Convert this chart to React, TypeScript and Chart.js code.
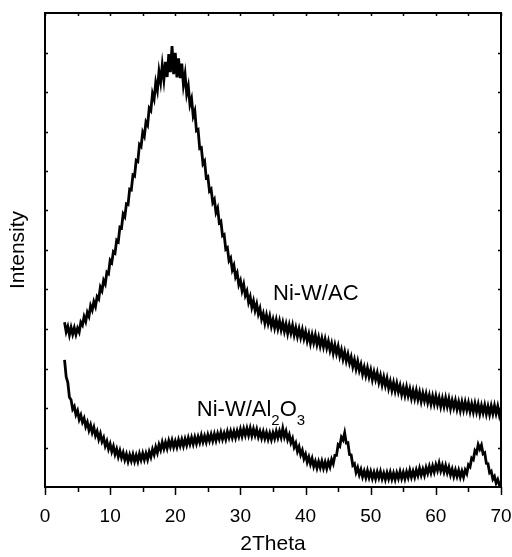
import React, { useEffect, useRef } from "react";
import { Chart, registerables } from "chart.js";

Chart.register(...registerables);

// 2Theta sampling grid (degrees)
const thetaStart = 3;
const thetaStep = 0.25;

// Ni-W/AC intensity (arb. units), 3..70 deg every 0.25 deg
const niWAC = [
  417, 393, 406, 385, 404, 387, 403, 386, 402, 392,
  417, 410, 431, 419, 442, 432, 459, 448, 469, 457,
  482, 476, 506, 497, 523, 514, 544, 540, 574, 568,
  596, 592, 625, 621, 658, 656, 691, 684, 717, 715,
  754, 752, 790, 787, 827, 824, 867, 862, 898, 888,
  924, 916, 959, 953, 996, 982, 1024, 1004, 1052, 1025,
  1068, 1031, 1076, 1038, 1096, 1050, 1116, 1045, 1099, 1037,
  1085, 1035, 1072, 1018, 1045, 995, 1015, 968, 983, 939,
  952, 902, 905, 857, 859, 818, 825, 783, 786, 749,
  754, 720, 728, 695, 706, 669, 673, 636, 639, 602,
  606, 573, 580, 550, 561, 532, 542, 512, 523, 497,
  513, 485, 496, 468, 482, 455, 471, 447, 463, 438,
  452, 425, 439, 415, 435, 414, 432, 407, 424, 403,
  423, 401, 420, 398, 416, 394, 412, 389, 410, 390,
  409, 385, 403, 381, 400, 379, 398, 376, 393, 370,
  387, 364, 385, 365, 384, 361, 379, 357, 376, 355,
  374, 352, 369, 346, 363, 339, 359, 338, 356, 331,
  347, 324, 342, 319, 336, 314, 329, 305, 322, 299,
  318, 295, 310, 286, 303, 282, 301, 279, 296, 272,
  291, 272, 289, 265, 282, 259, 278, 257, 275, 250,
  267, 245, 264, 243, 262, 241, 257, 234, 252, 232,
  253, 231, 248, 225, 244, 224, 244, 222, 240, 217,
  237, 218, 236, 214, 232, 210, 230, 210, 230, 209,
  226, 204, 224, 204, 225, 204, 223, 199, 219, 201,
  219, 197, 215, 194, 215, 195, 215, 195, 213, 191,
  210, 190, 211, 190, 209, 186, 206, 188, 207, 185,
  204, 184, 205, 186, 206, 186, 204, 182, 200,
];

// Ni-W/Al2O3 intensity (arb. units), same grid
const niWAl2O3 = [
  322, 279, 265, 227, 221, 197, 204, 183, 193, 171,
  182, 164, 174, 153, 164, 144, 157, 138, 151, 130,
  141, 121, 135, 115, 125, 104, 116, 96, 109, 90,
  103, 83, 96, 77, 92, 74, 87, 69, 83, 65,
  81, 66, 82, 65, 80, 65, 84, 69, 85, 69,
  85, 70, 89, 76, 95, 82, 101, 87, 107, 94,
  113, 97, 113, 98, 117, 102, 118, 101, 116, 101,
  119, 104, 120, 104, 121, 106, 124, 109, 125, 109,
  126, 110, 127, 113, 131, 114, 129, 114, 132, 117,
  133, 117, 134, 118, 135, 121, 138, 121, 136, 121,
  140, 125, 141, 125, 141, 125, 142, 128, 146, 129,
  147, 131, 148, 131, 149, 130, 147, 131, 146, 127,
  141, 124, 140, 123, 138, 121, 136, 120, 137, 123,
  141, 125, 141, 126, 148, 127, 141, 120, 132, 112,
  123, 101, 111, 90, 102, 82, 93, 72, 83, 63,
  76, 58, 72, 52, 65, 48, 64, 49, 65, 48,
  63, 47, 64, 51, 70, 59, 80, 80, 107, 103,
  126, 119, 137, 111, 112, 82, 81, 55, 59, 37,
  49, 31, 44, 26, 40, 24, 41, 24, 39, 22,
  37, 21, 38, 23, 39, 21, 35, 19, 36, 21,
  37, 20, 35, 19, 36, 22, 39, 22, 37, 21,
  38, 24, 42, 25, 40, 25, 43, 29, 47, 30,
  45, 30, 49, 35, 52, 36, 53, 38, 56, 42,
  60, 41, 55, 38, 54, 36, 50, 31, 45, 27,
  43, 27, 42, 25, 40, 25, 43, 34, 56, 51,
  73, 69, 92, 86, 107, 96, 106, 84, 87, 60,
  59, 36, 40, 20, 27, 10, 19, 5, 13,
];

const xMin = 0;
const xMax = 70;
const yMin = 0;
const yMax = 1200;
const xMajorTicks = [0, 10, 20, 30, 40, 50, 60, 70];
const xMinorTicks = [5, 15, 25, 35, 45, 55, 65];
const yTicks = [100, 200, 300, 400, 500, 600, 700, 800, 900, 1000, 1100];

const xTitle = "2Theta";
const yTitle = "Intensity";
const labelAC = { text: "Ni-W/AC", x: 35.0, y: 473 };
const labelAl = { x: 23.3, y: 180 };

const twoTheta = niWAC.map((_, i) => thetaStart + i * thetaStep);

const framePlugin = {
  id: "framePlugin",
  afterDraw(chart: any) {
    const { ctx, chartArea: a, scales } = chart;
    const x = scales.x;
    const y = scales.y;
    ctx.save();
    ctx.strokeStyle = "#000";
    ctx.lineWidth = 2;
    ctx.strokeRect(a.left, a.top, a.right - a.left, a.bottom - a.top);
    ctx.lineWidth = 1.5;
    ctx.beginPath();
    for (const v of xMajorTicks) {
      const px = Math.round(x.getPixelForValue(v)) + 0.5;
      ctx.moveTo(px, a.bottom);
      ctx.lineTo(px, a.bottom + 8);
      ctx.moveTo(px, a.top);
      ctx.lineTo(px, a.top + 3);
    }
    for (const v of xMinorTicks) {
      const px = Math.round(x.getPixelForValue(v)) + 0.5;
      ctx.moveTo(px, a.bottom);
      ctx.lineTo(px, a.bottom + 5);
      ctx.moveTo(px, a.top);
      ctx.lineTo(px, a.top + 3);
    }
    for (const v of yTicks) {
      const py = Math.round(y.getPixelForValue(v)) + 0.5;
      ctx.moveTo(a.left, py);
      ctx.lineTo(a.left + 3, py);
      ctx.moveTo(a.right, py);
      ctx.lineTo(a.right - 3, py);
    }
    ctx.stroke();

    ctx.fillStyle = "#000";
    ctx.textBaseline = "alphabetic";
    ctx.textAlign = "left";
    const big = "22px Arial, 'Liberation Sans', sans-serif";
    const small = "15px Arial, 'Liberation Sans', sans-serif";
    ctx.font = big;
    ctx.fillText(labelAC.text, x.getPixelForValue(labelAC.x), y.getPixelForValue(labelAC.y));

    let cx = x.getPixelForValue(labelAl.x);
    const by = y.getPixelForValue(labelAl.y);
    const parts: [string, boolean][] = [["Ni-W/Al", false], ["2", true], ["O", false], ["3", true]];
    for (const [t, sub] of parts) {
      ctx.font = sub ? small : big;
      ctx.fillText(t, cx, sub ? by + 9 : by);
      cx += ctx.measureText(t).width;
    }
    ctx.restore();
  },
};

export default function App() {
  const ref = useRef<HTMLCanvasElement | null>(null);

  useEffect(() => {
    if (!ref.current) return;
    const chart = new Chart(ref.current, {
      type: "line",
      data: {
        datasets: [
          {
            label: "Ni-W/AC",
            data: twoTheta.map((t, i) => ({ x: t, y: niWAC[i] })),
            borderColor: "#000",
            borderWidth: 2.8,
            pointRadius: 0,
            tension: 0,
          },
          {
            label: "Ni-W/Al2O3",
            data: twoTheta.map((t, i) => ({ x: t, y: niWAl2O3[i] })),
            borderColor: "#000",
            borderWidth: 2.8,
            pointRadius: 0,
            tension: 0,
          },
        ],
      },
      options: {
        animation: false,
        responsive: true,
        maintainAspectRatio: false,
        layout: { padding: { top: 13, right: 11, left: 0, bottom: 0 } },
        plugins: { legend: { display: false }, tooltip: { enabled: false } },
        scales: {
          x: {
            type: "linear",
            min: xMin,
            max: xMax,
            grid: { display: false },
            border: { display: false },
            ticks: {
              stepSize: 10,
              color: "#000",
              padding: 10,
              maxRotation: 0,
              font: { size: 19, family: "Arial, 'Liberation Sans', sans-serif" },
            },
            title: {
              display: true,
              text: xTitle,
              color: "#000",
              padding: { top: 2, bottom: 0 },
              font: { size: 21, family: "Arial, 'Liberation Sans', sans-serif" },
            },
            afterFit: (s: any) => {
              s.height = 70;
              s.paddingLeft = 0;
              s.paddingRight = 0;
            },
          },
          y: {
            type: "linear",
            min: yMin,
            max: yMax,
            grid: { display: false },
            border: { display: false },
            ticks: { display: false, stepSize: 100 },
            title: {
              display: true,
              text: yTitle,
              color: "#000",
              padding: { top: 6, bottom: 0 },
              font: { size: 21, family: "Arial, 'Liberation Sans', sans-serif" },
            },
            afterFit: (s: any) => {
              s.width = 45;
            },
          },
        },
      },
      plugins: [framePlugin],
    });
    return () => chart.destroy();
  }, []);

  return (
    <div style={{ position: "absolute", left: 0, top: 0, width: 512, height: 557, background: "#fff" }}>
      <canvas ref={ref} />
    </div>
  );
}
